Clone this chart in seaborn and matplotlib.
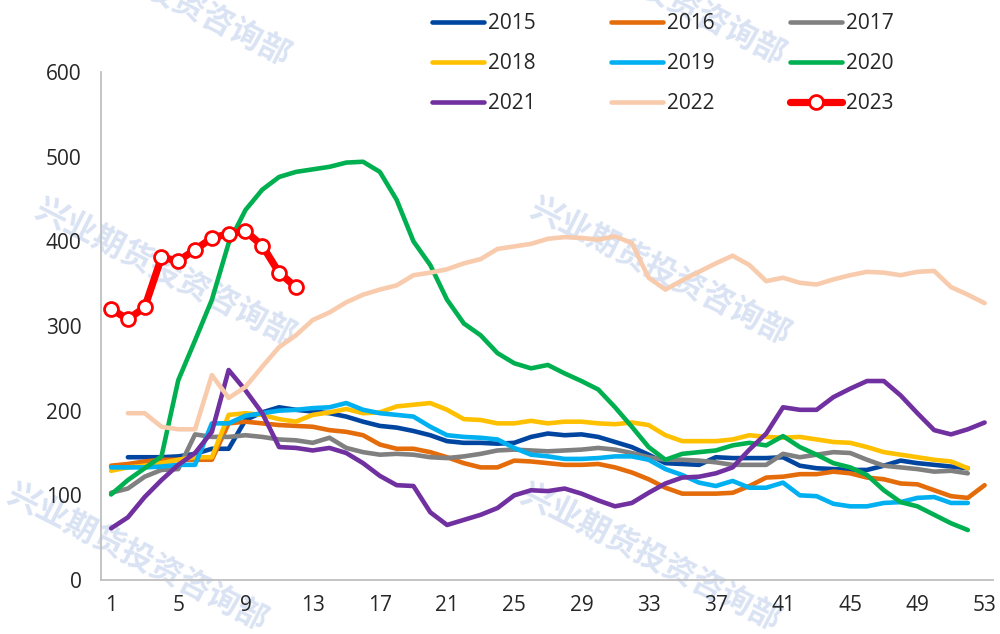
import numpy as np
import pandas as pd
import matplotlib
matplotlib.use("Agg")
import matplotlib.pyplot as plt
import seaborn as sns

nan = np.nan

WEEKS = list(range(1, 54))

Y2015 = [nan, 145, 145, 145, 146, 149, 155, 155, 189, 198, 204, 201, 199, 197, 193, 187, 182, 180,
         176, 171, 164, 162, 162, 161, 162, 169, 173, 171, 172, 169, 163, 157, 148, 138, 137, 136,
         145, 144, 144, 144, 145, 135, 132, 131, 130, 130, 135, 141, 138, 136, 134, 132]
Y2016 = [135, 137, 140, 142, 142, 142, 142, 185, 187, 185, 183, 182, 181, 177, 175, 171, 160, 155,
         155, 151, 145, 138, 133, 133, 141, 140, 138, 136, 136, 137, 133, 127, 119, 109, 102, 102,
         102, 103, 111, 121, 122, 125, 125, 128, 126, 121, 119, 114, 113, 106, 99, 97, 112]
Y2017 = [103, 108, 122, 130, 131, 172, 169, 169, 171, 169, 166, 165, 162, 168, 156, 151, 148, 149,
         148, 145, 144, 146, 149, 153, 154, 153, 152, 153, 154, 156, 154, 150, 145, 142, 142, 141,
         139, 136, 136, 136, 149, 145, 148, 151, 150, 142, 135, 133, 131, 128, 129, 126]
Y2018 = [129, 133, 135, 138, 142, 145, 145, 195, 197, 195, 190, 187, 195, 198, 202, 197, 198, 205,
         207, 209, 201, 190, 189, 185, 185, 188, 185, 187, 187, 185, 184, 186, 183, 171, 164, 164,
         164, 166, 171, 169, 168, 169, 166, 163, 162, 157, 151, 148, 145, 142, 140, 132]
Y2019 = [133, 133, 133, 134, 136, 136, 185, 185, 194, 197, 200, 201, 203, 204, 209, 201, 197, 195,
         193, 181, 171, 169, 168, 166, 156, 148, 146, 143, 143, 144, 146, 146, 142, 131, 124, 115,
         111, 117, 109, 109, 115, 100, 99, 90, 87, 87, 91, 92, 97, 98, 91, 91]
Y2020 = [101, 118, 132, 146, 236, 283, 331, 398, 437, 461, 476, 482, 485, 488, 493, 494, 482, 449,
         400, 372, 331, 303, 289, 268, 256, 250, 254, 244, 235, 225, 204, 181, 157, 142, 149, 151,
         153, 159, 162, 159, 170, 157, 148, 138, 133, 124, 106, 92, 87, 77, 67, 59]
Y2021 = [61, 74, 98, 118, 136, 150, 175, 248, 224, 197, 157, 156, 153, 156, 150, 138, 123, 112,
         111, 80, 65, 71, 77, 85, 100, 106, 105, 108, 102, 94, 87, 91, 103, 114, 121, 122,
         126, 133, 154, 173, 204, 201, 201, 216, 226, 235, 235, 218, 197, 177, 172, 178, 186]
Y2022 = [nan, 197, 197, 181, 178, 178, 242, 215, 228, 252, 275, 289, 307, 316, 328, 337, 343, 348,
         360, 363, 367, 374, 379, 391, 394, 397, 403, 405, 404, 402, 406, 398, 357, 343, 354, 364,
         374, 383, 372, 353, 357, 351, 349, 355, 360, 364, 363, 360, 364, 365, 346, 337, 327]
Y2023 = [320, 308, 322, 381, 377, 390, 404, 409, 412, 395, 363, 346]

YEARS = ["2015", "2016", "2017", "2018", "2019", "2020", "2021", "2022", "2023"]
SERIES = [Y2015, Y2016, Y2017, Y2018, Y2019, Y2020, Y2021, Y2022, Y2023]

PALETTE = {
    "2015": "#0046A0",
    "2016": "#E46C0A",
    "2017": "#808080",
    "2018": "#FFC000",
    "2019": "#00B0F0",
    "2020": "#00B050",
    "2021": "#7030A0",
    "2022": "#F8CBAD",
    "2023": "#FF0000",
}

WATERMARK = "兴业期货投资咨询部"
WM_POS = [(160, -8), (655, -9), (165, 272), (660, 271), (137, 557), (650, 557)]

sns.set_style("white")
plt.rcParams["font.family"] = ["Open Sans", "Noto Sans CJK SC", "DejaVu Sans"]

fig = plt.figure(figsize=(10, 6.34), dpi=100)
ax = fig.add_axes([0.101, 1 - 580 / 634, 0.892, (580 - 72) / 634])
ax.set_facecolor("none")

# faint watermark behind everything
for px, py in WM_POS:
    fig.text(px / 1000, 1 - py / 634, WATERMARK, rotation=-27, fontsize=23, fontweight="bold",
             family=["Noto Sans CJK SC", "DejaVu Sans"],
             color="#DAE3F3", ha="center", va="center", zorder=-1)

handles = {}
for year, vals in zip(YEARS, SERIES):
    df = pd.DataFrame({"week": WEEKS[:len(vals)], "value": vals}).dropna()
    if year == "2023":
        sns.lineplot(data=df, x="week", y="value", ax=ax, color=PALETTE[year], lw=5.2,
                     marker="o", markersize=10, markerfacecolor="white",
                     markeredgecolor=PALETTE[year], markeredgewidth=2,
                     solid_capstyle="round", solid_joinstyle="round", zorder=5)
    else:
        sns.lineplot(data=df, x="week", y="value", ax=ax, color=PALETTE[year], lw=3.3,
                     solid_capstyle="round", solid_joinstyle="round")
    handles[year] = ax.lines[-1]

ax.set_xlim(0.4, 53.5)
ax.set_ylim(0, 600)
ax.set_xticks(range(1, 54, 4))
ax.set_yticks(range(0, 601, 100))
ax.set_xlabel("")
ax.set_ylabel("")
ax.tick_params(axis="both", length=0, labelsize=15)
ax.tick_params(axis="x", pad=11)
ax.tick_params(axis="y", pad=14)

sns.despine(ax=ax)
for side in ["left", "bottom"]:
    ax.spines[side].set_color("#BFBFBF")
    ax.spines[side].set_linewidth(1.3)

# matplotlib fills legend columns first, so reorder for row-wise reading
order = ["2015", "2018", "2021", "2016", "2019", "2022", "2017", "2020", "2023"]
ax.legend([handles[y] for y in order], order, ncol=3, loc="upper left",
          bbox_to_anchor=(0.432, 1 - 13 / 634), bbox_transform=fig.transFigure,
          frameon=False, fontsize=15, handlelength=2.5, handletextpad=0.2,
          columnspacing=3.6, labelspacing=0.92, borderpad=0, borderaxespad=0)

fig.savefig("out.png", dpi=100)
